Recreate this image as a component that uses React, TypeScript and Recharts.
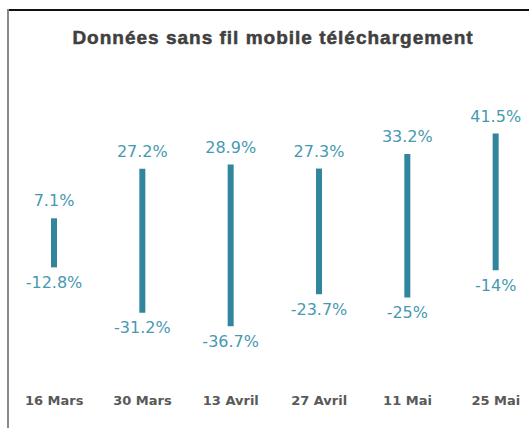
import * as React from 'react';
import { BarChart, Bar, XAxis, YAxis, LabelList } from 'recharts';

// Données du graphique
const categories = ['16 Mars', '30 Mars', '13 Avril', '27 Avril', '11 Mai', '25 Mai'];
const highs = [7.1, 27.2, 28.9, 27.3, 33.2, 41.5];
const lows = [-12.8, -31.2, -36.7, -23.7, -25, -14];

const data = categories.map((name, i) => ({
	name,
	range: [lows[i], highs[i]],
	high: highs[i],
	low: lows[i],
}));

const BAR_COLOR = '#31859c';
const LABEL_COLOR = '#4799b0';
const LABEL_FONT = '"DejaVu Sans", Verdana, sans-serif';

function TopLabel(props: any) {
	const { x, y, width, height, value } = props;
	const top = Math.min(y, y + height);
	return (
		<text x={x + width / 2} y={top - 12} textAnchor="middle" fill={LABEL_COLOR}
			fontSize={16} fontFamily={LABEL_FONT}>
			{value}%
		</text>
	);
}

function BottomLabel(props: any) {
	const { x, y, width, height, value } = props;
	const bottom = Math.max(y, y + height);
	return (
		<text x={x + width / 2} y={bottom + 20.5} textAnchor="middle" fill={LABEL_COLOR}
			fontSize={16} fontFamily={LABEL_FONT}>
			{value}%
		</text>
	);
}

function CategoryTick(props: any) {
	const { x, y, payload } = props;
	return (
		<text x={x} y={y} dy={40} textAnchor="middle" fill="#595959"
			fontSize={13} fontWeight="bold" fontFamily={LABEL_FONT}>
			{payload.value}
		</text>
	);
}

export default function App() {
	return (
		<div style={{ position: 'absolute', left: 0, top: 0, width: 529, height: 428, overflow: 'hidden', background: '#fff' }}>
			<div style={{ position: 'absolute', left: 7, top: 9, width: 530, height: 2, background: '#111' }} />
			<div style={{ position: 'absolute', left: 7, top: 9, width: 2, height: 430, background: '#8a8a8a' }} />
			<svg width={529} height={60} style={{ position: 'absolute', left: 0, top: 0 }}>
				<text x={273} y={44} textAnchor="middle" fill="#404040" fontSize={19} fontWeight="bold"
					letterSpacing={1} stroke="#404040" strokeWidth={0.5}
					fontFamily='"Liberation Sans", Arial, sans-serif'>
					Données sans fil mobile téléchargement
				</text>
			</svg>
			<div style={{ position: 'absolute', left: 0, top: 0 }}>
				<BarChart
					width={540}
					height={428}
					data={data}
					barSize={6}
					margin={{ top: 88, right: 0, bottom: 39, left: 10 }}
				>
					<XAxis dataKey="name" axisLine={false} tickLine={false} height={30} tickMargin={0}
						interval={0} tick={<CategoryTick />} />
					<YAxis hide domain={[-50, 60]} />
					<Bar dataKey="range" fill={BAR_COLOR} isAnimationActive={false}>
						<LabelList dataKey="high" content={<TopLabel />} />
						<LabelList dataKey="low" content={<BottomLabel />} />
					</Bar>
				</BarChart>
			</div>
		</div>
	);
}
